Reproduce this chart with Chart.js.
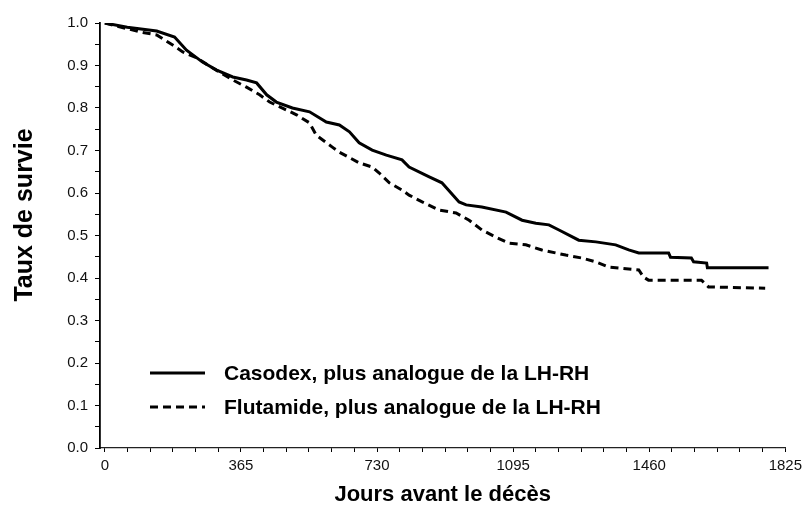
<!DOCTYPE html>
<html>
<head>
<meta charset="utf-8">
<script src="https://cdn.jsdelivr.net/npm/chart.js@4.4.1/dist/chart.umd.min.js"></script>
<style>
    html, body { margin: 0; padding: 0; background: #fff; }
    #wrap { width: 807px; height: 510px; }
</style>
</head>
<body>
<div id="wrap"><canvas id="survieChart" width="807" height="510"></canvas></div>
<script>
// Data (Kaplan-Meier, jours / taux de survie)
const casodexDays = [0, 60, 139, 187, 219, 262, 300, 343, 380, 407, 434, 460, 503, 549, 594, 629, 656, 682, 717, 755, 797, 816, 870, 904, 950, 969, 1011, 1076, 1119, 1156, 1191, 1218, 1271, 1317, 1370, 1405, 1432, 1512, 1517, 1573, 1579, 1614, 1616, 1780];
const casodexSurv = [1.0, 0.99, 0.981, 0.967, 0.936, 0.908, 0.889, 0.873, 0.866, 0.859, 0.831, 0.814, 0.800, 0.791, 0.767, 0.760, 0.744, 0.718, 0.701, 0.689, 0.678, 0.661, 0.638, 0.624, 0.579, 0.572, 0.567, 0.555, 0.536, 0.529, 0.525, 0.513, 0.489, 0.485, 0.478, 0.466, 0.459, 0.459, 0.449, 0.447, 0.438, 0.435, 0.424, 0.424];

const flutamideDays = [0, 94, 139, 182, 209, 246, 289, 343, 380, 415, 442, 514, 549, 567, 610, 629, 682, 717, 736, 763, 797, 816, 851, 896, 942, 977, 1011, 1049, 1084, 1129, 1172, 1236, 1279, 1317, 1351, 1432, 1445, 1458, 1600, 1619, 1771];
const flutamideSurv = [1.0, 0.979, 0.972, 0.948, 0.932, 0.918, 0.894, 0.866, 0.849, 0.831, 0.814, 0.784, 0.765, 0.736, 0.708, 0.696, 0.671, 0.661, 0.647, 0.624, 0.607, 0.595, 0.579, 0.560, 0.553, 0.536, 0.513, 0.496, 0.482, 0.478, 0.466, 0.454, 0.447, 0.438, 0.426, 0.419, 0.402, 0.395, 0.395, 0.379, 0.376];

const seriesLabels = ['Casodex, plus analogue de la LH-RH', 'Flutamide, plus analogue de la LH-RH'];
const xTickLabels = [0, 365, 730, 1095, 1460, 1825];
const yTickLabels = [0.0, 0.1, 0.2, 0.3, 0.4, 0.5, 0.6, 0.7, 0.8, 0.9, 1.0];
const yTitle = 'Taux de survie';
const xTitle = 'Jours avant le décès';

const toPoints = (xs, ys) => xs.map((x, i) => ({ x: x, y: ys[i] }));

// minor ticks: 6 per year on x, halfway between labels on y
const xMinor = [];
for (let i = 0; i <= 30; i++) xMinor.push(i * 365 / 6);
const yMinor = [];
for (let i = 0; i <= 20; i++) yMinor.push(i / 20);

const isMajor = (v, list) => list.some(m => Math.abs(m - v) < 1e-6);

const boldFamily = "'Liberation Sans', Arial, sans-serif";

// legend inside the plot + y title (sits a bit above the axis centre in the original)
const insideLegend = {
    id: 'insideLegend',
    afterDatasetsDraw(chart) {
        const ctx = chart.ctx;
        const rows = [373, 407];
        ctx.save();
        chart.data.datasets.forEach((ds, i) => {
            const y = rows[i];
            ctx.strokeStyle = ds.borderColor;
            ctx.lineWidth = 3;
            ctx.setLineDash(ds.borderDash || []);
            ctx.beginPath();
            ctx.moveTo(150, y);
            ctx.lineTo(205, y);
            ctx.stroke();
            ctx.setLineDash([]);
            ctx.fillStyle = '#000';
            ctx.font = 'bold 21px ' + boldFamily;
            ctx.textBaseline = 'middle';
            ctx.fillText(ds.label, 224, y + 1);
        });

        ctx.translate(25, 215);
        ctx.rotate(-Math.PI / 2);
        ctx.font = 'bold 25px ' + boldFamily;
        ctx.textAlign = 'center';
        ctx.textBaseline = 'middle';
        ctx.fillText(yTitle, 0, 0);
        ctx.restore();
    }
};

const tickFont = { family: "'Liberation Sans', Arial, sans-serif", size: 15 };

new Chart(document.getElementById('survieChart'), {
    type: 'line',
    data: {
        datasets: [{
            label: seriesLabels[0],
            data: toPoints(casodexDays, casodexSurv),
            borderColor: '#000',
            borderWidth: 3,
            pointRadius: 0,
            tension: 0,
            fill: false
        }, {
            label: seriesLabels[1],
            data: toPoints(flutamideDays, flutamideSurv),
            borderColor: '#000',
            borderWidth: 3,
            borderDash: [8, 5],
            pointRadius: 0,
            tension: 0,
            fill: false
        }]
    },
    options: {
        responsive: false,
        animation: false,
        layout: { padding: { top: 23, right: 20, left: 0, bottom: 0 } },
        plugins: {
            legend: { display: false },
            tooltip: { enabled: false }
        },
        scales: {
            x: {
                type: 'linear',
                min: -13,
                max: 1825,
                afterBuildTicks: s => { s.ticks = xMinor.map(v => ({ value: v })); },
                afterFit: s => { s.height = 62; },
                ticks: {
                    autoSkip: false,
                    maxRotation: 0,
                    color: '#111',
                    font: tickFont,
                    padding: 5,
                    callback: v => isMajor(v, xTickLabels) ? String(Math.round(v)) : ''
                },
                grid: { drawOnChartArea: false, drawTicks: true, tickLength: 4, color: '#000' },
                border: { color: '#222', width: 1.2 },
                title: {
                    display: true,
                    text: xTitle,
                    color: '#000',
                    font: { family: boldFamily, size: 22, weight: 'bold' },
                    padding: { top: 4, bottom: 2 }
                }
            },
            y: {
                min: 0,
                max: 1,
                afterBuildTicks: s => { s.ticks = yMinor.map(v => ({ value: v })); },
                afterFit: s => { s.width = 100; },
                ticks: {
                    autoSkip: false,
                    color: '#111',
                    font: tickFont,
                    padding: 7,
                    callback: v => isMajor(v, yTickLabels) ? v.toFixed(1) : ''
                },
                grid: { drawOnChartArea: false, drawTicks: true, tickLength: 5, color: '#000' },
                border: { color: '#000', width: 1.8 },
                title: { display: false }
            }
        }
    },
    plugins: [insideLegend]
});
</script>
</body>
</html>
